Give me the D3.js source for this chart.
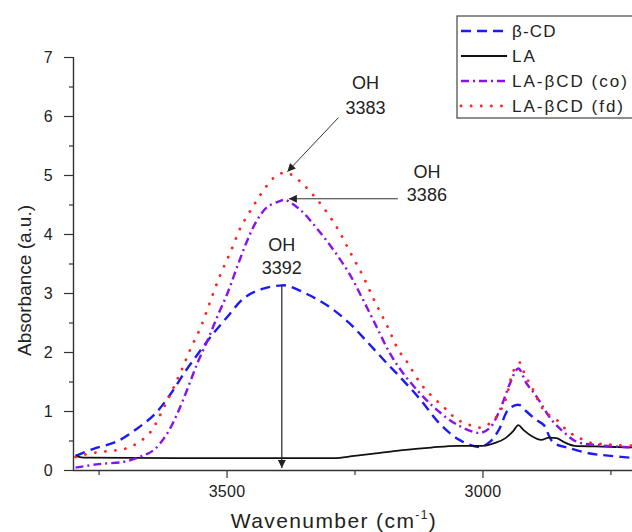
<!DOCTYPE html>
<html>
<head>
<meta charset="utf-8">
<script src="https://cdn.jsdelivr.net/npm/d3@7"></script>
<style>
  html, body { margin: 0; padding: 0; background: #fff; }
  svg { display: block; font-family: "Liberation Sans", Arial, sans-serif; }
</style>
</head>
<body>
<svg id="chart" width="632" height="532"></svg>
<script>
// FTIR absorbance spectra, OH / CH stretching region
const wavenumbers = {
  bcd:  [3795,3760,3715,3675,3640,3610,3580,3555,3530,3500,3465,3430,3392,3380,3340,3300,3260,3225,3190,3155,3120,3085,3045,3005,2985,2968,2950,2935,2927,2915,2895,2880,2862,2830,2790,2750,2700],
  la:   [3795,3780,3600,3400,3290,3250,3200,3150,3100,3050,3000,2975,2955,2940,2930,2920,2905,2885,2870,2855,2840,2820,2780,2700],
  co:   [3795,3750,3700,3670,3642,3616,3596,3577,3557,3537,3518,3498,3479,3459,3440,3420,3395,3386,3356,3324,3291,3259,3233,3207,3181,3155,3122,3089,3050,3005,2985,2966,2946,2930,2914,2894,2865,2842,2816,2771,2725,2700],
  fd:   [3795,3767,3741,3720,3698,3675,3649,3623,3589,3570,3550,3531,3511,3492,3472,3453,3440,3423,3404,3383,3356,3337,3317,3285,3259,3233,3210,3187,3164,3148,3116,3070,3050,3024,3001,2978,2962,2953,2940,2927,2917,2904,2878,2855,2832,2810,2784,2761,2735,2700]
};
const bcdValues = [0.24,0.36,0.48,0.70,0.95,1.28,1.68,1.98,2.27,2.58,2.92,3.07,3.13,3.12,2.97,2.77,2.49,2.17,1.84,1.52,1.18,0.80,0.51,0.39,0.48,0.68,1.02,1.10,1.10,1.00,0.85,0.76,0.47,0.37,0.28,0.24,0.20];
const laValues  = [0.24,0.21,0.20,0.20,0.20,0.24,0.29,0.34,0.38,0.41,0.41,0.46,0.54,0.66,0.76,0.68,0.58,0.51,0.55,0.54,0.47,0.41,0.40,0.38];
const coValues  = [0.04,0.10,0.14,0.22,0.34,0.62,0.96,1.36,1.81,2.20,2.60,3.00,3.45,3.90,4.24,4.46,4.56,4.58,4.41,4.10,3.73,3.31,2.88,2.43,1.98,1.64,1.30,1.02,0.77,0.63,0.72,1.02,1.47,1.72,1.47,1.24,0.85,0.65,0.48,0.42,0.39,0.38];
const fdValues  = [0.22,0.28,0.31,0.33,0.36,0.45,0.64,1.05,1.67,2.06,2.43,2.88,3.33,3.70,4.12,4.40,4.58,4.80,4.98,5.04,4.89,4.72,4.52,4.12,3.70,3.28,2.85,2.46,2.03,1.84,1.41,1.02,0.86,0.76,0.72,0.85,1.05,1.24,1.67,1.82,1.61,1.41,0.99,0.85,0.65,0.54,0.45,0.44,0.42,0.41];

const seriesNames = ["\u03B2-CD", "LA", "LA-\u03B2CD (co)", "LA-\u03B2CD (fd)"];
const yTickValues = [0, 1, 2, 3, 4, 5, 6, 7];
const xTickValues = [3500, 3000];

// peak annotations: label lines and the absorbance at which the arrow tip sits
const peakLabels = [
  { lines: ["OH", "3383"], wn: 3383, abs: 5.04 },
  { lines: ["OH", "3386"], wn: 3386, abs: 4.58 },
  { lines: ["OH", "3392"], wn: 3392, abs: 3.13 }
];

const svg = d3.select("#chart");
const W = 632, H = 532;
const m = { left: 73, top: 57, bottom: 470 };

const x = d3.scaleLinear().domain([3800, 2700]).range([m.left, 636]);
const y = d3.scaleLinear().domain([0, 7]).range([m.bottom, m.top]);

const defs = svg.append("defs");
defs.append("clipPath").attr("id", "plotClip")
  .append("rect").attr("x", m.left).attr("y", 0).attr("width", W - m.left).attr("height", m.bottom);
defs.append("marker").attr("id", "arrowHead")
  .attr("viewBox", "0 0 10 10").attr("refX", 10).attr("refY", 5)
  .attr("markerWidth", 10).attr("markerHeight", 8).attr("markerUnits", "userSpaceOnUse")
  .attr("orient", "auto")
  .append("path").attr("d", "M0,0 L10,5 L0,10 z").attr("fill", "#222");

const styles = [
  { key: "bcd", vals: bcdValues, color: "#1b1bf5", width: 2.4, dash: "10,6", cap: "butt", curve: d3.curveCatmullRom.alpha(0.5) },
  { key: "la",  vals: laValues,  color: "#111111", width: 1.8, dash: null, cap: "butt", curve: d3.curveMonotoneX },
  { key: "co",  vals: coValues,  color: "#8a10f0", width: 2.4, dash: "8,4,2,4", cap: "butt", curve: d3.curveCatmullRom.alpha(0.5) },
  { key: "fd",  vals: fdValues,  color: "#ff2424", width: 2.8, dash: "0.1,10", cap: "round", curve: d3.curveCatmullRom.alpha(0.5) }
];

const plot = svg.append("g").attr("clip-path", "url(#plotClip)");
styles.forEach(s => {
  const pts = wavenumbers[s.key].map((w, i) => [w, s.vals[i]]);
  const line = d3.line().x(d => x(d[0])).y(d => y(d[1])).curve(s.curve);
  plot.append("path").datum(pts)
    .attr("d", line)
    .attr("fill", "none")
    .attr("stroke", s.color)
    .attr("stroke-width", s.width)
    .attr("stroke-linecap", s.cap)
    .attr("stroke-linejoin", "round")
    .attr("stroke-dasharray", s.dash);
});

// axes
const axisColor = "#333";
const yAxis = svg.append("g").attr("transform", `translate(${m.left},0)`)
  .call(d3.axisLeft(y).tickValues(yTickValues).tickSize(9).tickPadding(11).tickFormat(d3.format("d")));
svg.append("g").attr("transform", `translate(${m.left},0)`)
  .call(d3.axisLeft(y).tickValues(d3.range(0.5, 7, 1)).tickSize(4).tickFormat(""))
  .select(".domain").remove();

const xAxis = svg.append("g").attr("transform", `translate(0,${m.bottom})`)
  .call(d3.axisBottom(x).tickValues(xTickValues).tickSize(8).tickPadding(8).tickFormat(d3.format("d")));
svg.append("g").attr("transform", `translate(0,${m.bottom})`)
  .call(d3.axisBottom(x).tickValues([3750, 3250, 2750]).tickSize(5).tickFormat(""))
  .select(".domain").remove();

svg.selectAll(".domain").attr("stroke", axisColor).attr("stroke-width", 1.4);
svg.selectAll(".tick line").attr("stroke", axisColor).attr("stroke-width", 1.2);
svg.selectAll(".tick text").attr("fill", "#222").style("font-size", "16px")
  .style("letter-spacing", "0.3px")
  .style("font-family", "'Liberation Sans', Arial, sans-serif");
xAxis.select(".domain").attr("d", `M${m.left},0.5H${W}`);
yAxis.select(".domain").attr("d", `M0.5,${m.bottom}V${m.top}`);

// axis titles
svg.append("text")
  .attr("transform", `translate(31,${(m.top + m.bottom) / 2 + 17}) rotate(-90)`)
  .attr("text-anchor", "middle").attr("fill", "#222")
  .style("font-size", "19px")
  .text("Absorbance (a.u.)");
const xt = svg.append("text")
  .attr("x", 334).attr("y", 528)
  .attr("text-anchor", "middle").attr("fill", "#222")
  .style("font-size", "21px").style("letter-spacing", "1.4px");
xt.append("tspan").text("Wavenumber (cm");
xt.append("tspan").attr("dy", -9).style("font-size", "12px").text("-1");
xt.append("tspan").attr("dy", 9).text(")");

// peak annotations
const ann = svg.append("g").attr("fill", "#222").style("font-size", "18px");
function labelBlock(cx, cy, lines, gap) {
  lines.forEach((t, i) => {
    ann.append("text").attr("x", cx).attr("y", cy + i * gap)
      .attr("text-anchor", "middle").text(t);
  });
}
// 3383: diagonal arrow from label down-left to the fd maximum
{
  const p = peakLabels[0];
  const tx = x(p.wn), ty = y(p.abs);
  labelBlock(tx + 79, ty - 84, p.lines, 25);
  svg.append("line").attr("x1", tx + 52).attr("y1", ty - 55).attr("x2", tx + 1).attr("y2", ty - 1)
    .attr("stroke", "#333").attr("stroke-width", 1).attr("marker-end", "url(#arrowHead)");
}
// 3386: horizontal arrow pointing left to the co maximum
{
  const p = peakLabels[1];
  const tx = x(p.wn), ty = y(p.abs);
  labelBlock(tx + 142, ty - 22, p.lines, 23);
  svg.append("line").attr("x1", tx + 113).attr("y1", ty - 1).attr("x2", tx + 4).attr("y2", ty - 1)
    .attr("stroke", "#333").attr("stroke-width", 1).attr("marker-end", "url(#arrowHead)");
}
// 3392: vertical drop line from the β-CD maximum to the baseline
{
  const p = peakLabels[2];
  const tx = x(p.wn), ty = y(p.abs);
  labelBlock(tx, ty - 34, p.lines, 23);
  svg.append("line").attr("x1", tx).attr("y1", ty).attr("x2", tx).attr("y2", y(0) - 2)
    .attr("stroke", "#222").attr("stroke-width", 1.2).attr("marker-end", "url(#arrowHead)");
}

// legend
const lg = svg.append("g").attr("transform", "translate(457,16)");
lg.append("rect").attr("x", 0).attr("y", 0).attr("width", 200).attr("height", 102)
  .attr("fill", "#fff").attr("stroke", "#444").attr("stroke-width", 1.2);
styles.forEach((s, i) => {
  const ry = 15 + i * 25;
  lg.append("line").attr("x1", 4).attr("x2", 50).attr("y1", ry).attr("y2", ry)
    .attr("stroke", s.color).attr("stroke-width", s.width)
    .attr("stroke-linecap", s.cap).attr("stroke-dasharray", s.dash);
  lg.append("text").attr("x", 55).attr("y", ry + 6)
    .attr("fill", "#222").style("font-size", "17px")
    .style("letter-spacing", i === 0 ? "1.2px" : "2px")
    .text(seriesNames[i]);
});
</script>
</body>
</html>
